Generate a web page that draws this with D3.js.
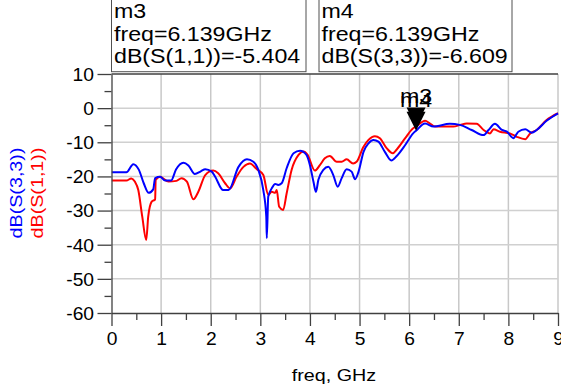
<!DOCTYPE html>
<html><head><meta charset="utf-8">
<script src="https://cdn.jsdelivr.net/npm/d3@7"></script>
<style>body{margin:0;background:#fff} text{font-family:"Liberation Sans",Arial,sans-serif}</style>
</head><body><svg id="c" width="561" height="388"></svg>
<script>
// ---- data ----
const freqS11 = [0,0.30,0.40,0.47,0.54,0.62,0.70,0.74,0.81,0.88,0.89,0.98,1.15,1.31,1.41,1.52,1.65,1.75,1.89,2.05,2.15,2.29,2.39,2.52,2.66,2.79,2.93,3.06,3.16,3.23,3.30,3.33,3.38,3.46,3.53,3.63,3.77,3.87,3.95,4.10,4.20,4.30,4.40,4.54,4.64,4.74,4.87,4.94,5.08,5.18,5.31,5.41,5.55,5.67,5.75,5.92,6.08,6.139,6.32,6.42,6.52,6.69,6.89,7.03,7.16,7.36,7.50,7.63,7.70,7.83,8.03,8.17,8.34,8.44,8.57,8.77,9.0];
const dbS11 = [-21.2,-21.2,-20.6,-21.5,-24.0,-31.8,-38.6,-31.8,-27.4,-26.7,-21.0,-20.1,-21.5,-21.3,-20.5,-21.5,-26.7,-24.5,-19.6,-18.3,-19.1,-22.0,-23.5,-20.1,-17.2,-16.2,-17.9,-19.6,-25.4,-24.5,-24.8,-24.0,-28.9,-29.8,-25.0,-18.1,-13.7,-12.7,-13.6,-18.3,-16.7,-14.7,-14.0,-15.7,-15.7,-15.0,-16.2,-15.7,-11.3,-9.3,-8.2,-8.8,-11.8,-13.2,-12.1,-8.8,-5.9,-5.404,-3.7,-4.5,-5.4,-5.4,-5.4,-4.9,-4.5,-4.6,-6.4,-7.4,-6.2,-6.9,-7.4,-8.4,-9.1,-7.4,-6.4,-3.5,-1.5];
const freqS33 = [0,0.30,0.44,0.55,0.65,0.75,0.84,0.88,0.98,1.08,1.20,1.30,1.45,1.55,1.68,1.80,1.89,2.02,2.09,2.25,2.36,2.56,2.73,2.86,2.96,3.06,3.12,3.13,3.16,3.23,3.30,3.36,3.43,3.53,3.67,3.80,3.93,4.00,4.07,4.12,4.17,4.27,4.37,4.47,4.56,4.64,4.74,4.84,4.91,4.98,5.08,5.18,5.28,5.38,5.51,5.64,5.75,5.92,6.08,6.139,6.32,6.49,6.82,7.02,7.26,7.50,7.60,7.73,7.87,7.97,8.10,8.20,8.34,8.47,8.57,8.77,9.0];
const dbS33 = [-18.8,-18.8,-16.4,-18.0,-22.0,-24.8,-23.8,-20.5,-20.1,-21.2,-21.2,-18.0,-16.0,-16.8,-19.3,-18.5,-17.9,-18.6,-20.1,-24.0,-24.0,-17.2,-15.0,-15.7,-18.1,-24.0,-31.8,-38.1,-25.9,-23.5,-22.2,-22.5,-22.0,-17.6,-13.2,-12.5,-13.7,-16.7,-21.5,-24.5,-21.0,-18.1,-17.2,-19.6,-23.0,-20.5,-17.9,-18.6,-20.8,-18.6,-12.8,-10.3,-9.3,-9.8,-12.8,-15.3,-14.0,-10.8,-7.4,-6.609,-4.5,-5.4,-4.6,-4.9,-6.4,-7.9,-6.4,-4.6,-6.4,-6.9,-8.8,-6.9,-6.2,-7.2,-6.4,-3.7,-1.5];
const xTicks = [0,1,2,3,4,5,6,7,8,9];
const yTicks = [-60,-50,-40,-30,-20,-10,0,10];
const xMinor = [0.5,1.5,2.5,3.5,4.5,5.5,6.5,7.5,8.5];
const yMinor = [-55,-45,-35,-25,-15,-5,5];
const markerNames = ["m3","m4"];
const markerFreq = [6.139,6.139];
const markerTrace = ["dB(S(1,1))","dB(S(3,3))"];
const markerValue = [-5.404,-6.609];
const xLabel = "freq, GHz";
const seriesNames = ["dB(S(3,3))","dB(S(1,1))"];

// ---- drawing ----
const svg = d3.select("#c");
const x = d3.scaleLinear().domain([0,9]).range([111.5,558]);
const y = d3.scaleLinear().domain([-60,10]).range([313,74]);
const axisCol = "#404040";

// grid
const grid = svg.append("g");
grid.selectAll("line.v").data(xTicks.slice(1)).join("line")
  .attr("x1",d=>x(d)).attr("x2",d=>x(d)).attr("y1",y(10)).attr("y2",y(-60))
  .attr("stroke","#c8c8c8").attr("stroke-width",1.5);
grid.selectAll("line.h").data(yTicks.filter(d=>d>-60&&d<10)).join("line")
  .attr("x1",x(0)).attr("x2",x(9)).attr("y1",d=>y(d)).attr("y2",d=>y(d))
  .attr("stroke","#d0d0d0").attr("stroke-width",1.5);
svg.append("line").attr("x1",x(0)).attr("x2",x(9)).attr("y1",y(10)).attr("y2",y(10))
  .attr("stroke",axisCol).attr("stroke-width",1.3);

// curves
svg.append("clipPath").attr("id","clip").append("rect")
  .attr("x",x(0)).attr("y",y(10)).attr("width",x(9)-x(0)+1).attr("height",y(-60)-y(10));
const line = d3.line().x(d=>x(d[0])).y(d=>y(d[1])).curve(d3.curveMonotoneX);
const g = svg.append("g").attr("clip-path","url(#clip)");
g.append("path").datum(d3.zip(freqS11,dbS11)).attr("d",line)
  .attr("fill","none").attr("stroke","#ff0000").attr("stroke-width",2);
g.append("path").datum(d3.zip(freqS33,dbS33)).attr("d",line)
  .attr("fill","none").attr("stroke","#0000ff").attr("stroke-width",2);

// axes
function style(sel){
  sel.selectAll(".domain").attr("stroke",axisCol).attr("stroke-width",1.3);
  sel.selectAll(".tick line").attr("stroke",axisCol).attr("stroke-width",1.3);
}
const yAx = svg.append("g").attr("transform",`translate(${x(0)},0)`)
  .call(d3.axisLeft(y).tickValues(yTicks).tickSize(14).tickSizeOuter(0).tickFormat(d=>String(d)));
style(yAx);
yAx.selectAll("text").attr("x",-15.9).attr("dy","0.36em").attr("transform","scale(1.1,1)")
  .style("font-size","17.5px").attr("fill","#000");
const yMin = svg.append("g").attr("transform",`translate(${x(0)},0)`)
  .call(d3.axisLeft(y).tickValues(yMinor).tickSize(7).tickSizeOuter(0).tickFormat(""));
style(yMin); yMin.select(".domain").remove();

const xAx = svg.append("g").attr("transform",`translate(0,${y(-60)})`)
  .call(d3.axisBottom(x).tickValues(xTicks).tickSize(13).tickSizeOuter(0).tickFormat(d=>String(d)));
style(xAx);
xAx.selectAll("text").attr("y",32).attr("dy",0).attr("transform","scale(1.1,1)")
  .style("font-size","17.5px").attr("fill","#000");
const xMin = svg.append("g").attr("transform",`translate(0,${y(-60)})`)
  .call(d3.axisBottom(x).tickValues(xMinor).tickSize(7).tickSizeOuter(0).tickFormat(""));
style(xMin); xMin.select(".domain").remove();

// axis titles
svg.append("text").attr("transform","translate(334,381) scale(1.16,1)")
  .attr("text-anchor","middle").style("font-size","17px").text(xLabel);
svg.append("text").attr("transform","translate(22,193) rotate(-90) scale(1.16,1)")
  .attr("text-anchor","middle").style("font-size","17px").attr("fill","#0000ff").text(seriesNames[0]);
svg.append("text").attr("transform","translate(43,193) rotate(-90) scale(1.16,1)")
  .attr("text-anchor","middle").style("font-size","17px").attr("fill","#ff0000").text(seriesNames[1]);

// markers (triangles + labels)
markerNames.forEach((nm,i)=>{
  const tx = x(markerFreq[i]), ty = y(markerValue[i]);
  svg.append("path").attr("d",`M${tx},${ty} L${tx-9.5},${ty-19} L${tx+9.5},${ty-19} Z`).attr("fill","#000");
  svg.append("text").attr("transform",`translate(${tx},${ty-23.5}) scale(1.16,1)`)
    .attr("text-anchor","middle").style("font-size","20px").text(nm);
});

// marker readout boxes
const boxX = [111.5,319], boxW = [194.5,193];
markerNames.forEach((nm,i)=>{
  svg.append("rect").attr("x",boxX[i]).attr("y",-2).attr("width",boxW[i]).attr("height",73.7)
    .attr("fill","#fff").attr("stroke","#505050").attr("stroke-width",1);
  const tg = svg.append("g").attr("transform",`translate(${boxX[i]+2.5},0) scale(1.16,1)`).style("font-size","20px");
  tg.append("text").attr("y",18.3).text(nm);
  tg.append("text").attr("y",40.7).text(`freq=${markerFreq[i]}GHz`);
  tg.append("text").attr("y",63.3).text(`${markerTrace[i]}=${markerValue[i]}`);
});
</script></body></html>
